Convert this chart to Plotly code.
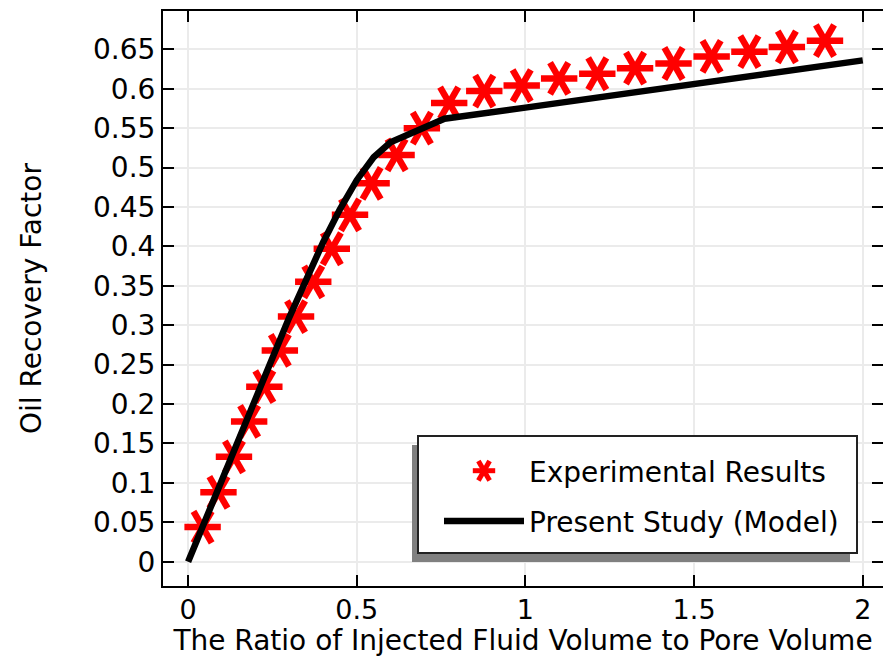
import plotly.graph_objects as go

# ---- data ----
exp_x = [0.043, 0.090, 0.136, 0.181, 0.226, 0.272, 0.320, 0.371, 0.426, 0.480, 0.544, 0.618,
         0.693, 0.774, 0.878, 0.989, 1.100, 1.213, 1.325, 1.439, 1.552, 1.664, 1.775, 1.888]
exp_y = [0.044, 0.088, 0.133, 0.178, 0.222, 0.268, 0.311, 0.355, 0.397, 0.440, 0.480, 0.516,
         0.550, 0.582, 0.597, 0.604, 0.613, 0.619, 0.626, 0.632, 0.641, 0.647, 0.653, 0.661]
model_x = [0, 0.1, 0.2, 0.3, 0.4, 0.45, 0.5, 0.55, 0.6, 0.65, 0.76, 1.0, 1.5, 2.0]
model_y = [0, 0.105, 0.208, 0.310, 0.405, 0.447, 0.484, 0.513, 0.532, 0.542, 0.562, 0.576, 0.606, 0.636]
x_ticks = [0, 0.5, 1, 1.5, 2]
y_ticks = [round(0.05 * i, 2) for i in range(14)]

FONT = "DejaVu Sans"
FS = 28
RED = "#ff0000"

fig = go.Figure()

# six-armed asterisk built from three rotated bars
for ang, lg in [(0, "legend"), (60, "legend2"), (-60, "legend3")]:
    fig.add_trace(go.Scatter(
        x=exp_x, y=exp_y, mode="markers", name="Experimental Results",
        legend=lg, legendgroup="exp" + str(ang),
        marker=dict(symbol="line-ew", size=26, angle=ang, color=RED,
                    line=dict(color=RED, width=6.5)),
        hoverinfo="x+y"))

fig.add_trace(go.Scatter(
    x=model_x, y=model_y, mode="lines", name="Present Study (Model)",
    legend="legend", legendgroup="model",
    line=dict(color="black", width=6.5)))

axis_common = dict(
    showline=True, linecolor="black", linewidth=2, mirror="allticks",
    ticks="inside", ticklen=11, tickwidth=2, tickcolor="black",
    showgrid=True, gridcolor="#ebebeb", gridwidth=2, zeroline=False,
)

fig.update_xaxes(range=[-0.0744, 2.060], tickvals=x_ticks,
                 ticktext=[("%g" % v) for v in x_ticks],
                 tickfont=dict(family=FONT, size=27, color="black"),
                 ticklabelstandoff=-1,
                 title=dict(text="The Ratio of Injected Fluid Volume to Pore Volume",
                            font=dict(family=FONT, size=FS, color="black"), standoff=6),
                 **axis_common)
fig.update_yaxes(range=[-0.0308, 0.6986], tickvals=y_ticks,
                 ticktext=[("%g" % v) for v in y_ticks],
                 tickfont=dict(family=FONT, size=FS, color="black"),
                 title=dict(text="Oil Recovery Factor",
                            font=dict(family=FONT, size=FS, color="black"), standoff=43),
                 **axis_common)

W, H = 720.0, 575.0
def px(x):
    return (x - 163) / W
def py(y):
    return (586 - y) / H

legend_common = dict(x=px(439), y=py(446), xanchor="left", yanchor="top",
                     bgcolor="rgba(0,0,0,0)", borderwidth=0, itemwidth=80,
                     tracegroupgap=11, traceorder="grouped")
fig.update_layout(
    width=883, height=657,
    margin=dict(l=163, r=0, t=11, b=71, autoexpand=False),
    paper_bgcolor="white", plot_bgcolor="white",
    font=dict(family=FONT, size=FS, color="black"),
    legend=dict(font=dict(family=FONT, size=FS, color="black"), **legend_common),
    legend2=dict(font=dict(family=FONT, size=FS, color="rgba(0,0,0,0)"), **legend_common),
    legend3=dict(font=dict(family=FONT, size=FS, color="rgba(0,0,0,0)"), **legend_common),
    shapes=[
        dict(type="rect", xref="paper", yref="paper", layer="above",
             x0=px(412), x1=px(850), y0=py(562), y1=py(445),
             fillcolor="#808080", line=dict(width=0)),
        dict(type="rect", xref="paper", yref="paper", layer="above",
             x0=px(418), x1=px(857), y0=py(553), y1=py(436),
             fillcolor="white", line=dict(color="#222222", width=2)),
    ],
)

fig.write_html("out.html")
